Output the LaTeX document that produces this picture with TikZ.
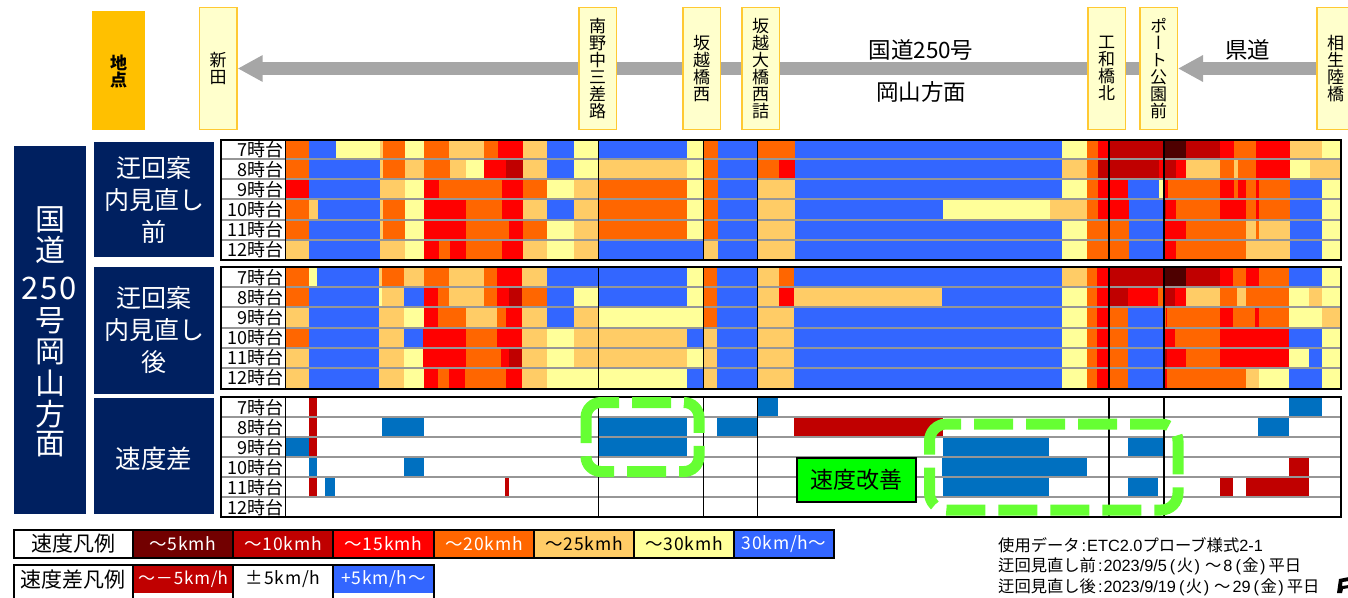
\documentclass[tikz,border=0pt]{standalone}
\usepackage{fontspec}
\setmainfont{Noto Sans CJK JP}
\newfontfamily\vertfam[RawFeature=+vert]{Noto Sans CJK JP}
\newfontfamily\spacedfam[LetterSpace=5]{Noto Sans CJK JP}
\newfontfamily\lat{Liberation Sans}
\usetikzlibrary{arrows.meta,backgrounds}
\definecolor{cO}{HTML}{FF6600}
\definecolor{cB}{HTML}{3366FF}
\definecolor{cY}{HTML}{FFFF99}
\definecolor{cL}{HTML}{FFCC66}
\definecolor{cR}{HTML}{FF0000}
\definecolor{cD}{HTML}{C00000}
\definecolor{cK}{HTML}{4E0000}
\definecolor{cK2}{HTML}{720000}
\definecolor{navy}{HTML}{002060}
\definecolor{diffB}{HTML}{0070C0}
\definecolor{siteline}{HTML}{FFC933}
\definecolor{sitefill}{HTML}{FFFFCC}
\definecolor{headfill}{HTML}{FFC000}
\definecolor{arrowgray}{HTML}{A6A6A6}
\definecolor{rowgray}{HTML}{969696}
\definecolor{hilite}{HTML}{66FF33}
\newcommand\fsz[1]{\fontsize{#1}{#1}\selectfont}
\newcommand\pf[1]{\hspace{3pt}{\lat(}\hspace{1.5pt}#1\hspace{1.5pt}{\lat)}\hspace{3pt}}
\newcommand\wave{\hspace{2pt}～\hspace{2pt}}
\newcommand\rowbars[3]{%
  \gdef\prevx{286}%
  \foreach \e/\c in {#3}{%
    \fill[\c] (\prevx,#1) rectangle (\e+0.4,#2);
    \global\let\prevx\e
  }%
}
\tikzset{
  x=1pt,y=-1pt,
  site/.style={draw=siteline,fill=sitefill,line width=1.5pt,minimum width=37.5pt,minimum height=122pt,
    inner sep=0pt,align=center,font=\fsz{17}},
  navybox/.style={fill=navy,text=white,inner sep=0pt,align=center},
  rowlab/.style={anchor=east,inner sep=0pt,font=\fsz{18}},
  rowline/.style={rowgray,line width=2pt},
  thinv/.style={black,line width=1.2pt},
  thickv/.style={black,line width=1.8pt},
  roadarrow/.style={arrowgray,line width=13pt,-{Triangle[length=25pt,width=25pt]}},
  roadtext/.style={inner sep=0pt,font=\fsz{22.5}},
  legcell/.style={inner sep=0pt,font=\spacedfam\fsz{17.5}},
  legtitle/.style={inner sep=0pt,font=\fsz{21}},
  note/.style={anchor=west,inner sep=0pt,font=\fsz{16.3}},
  hiliterect/.style={hilite,line width=11pt},
  hilitedash/.style={hiliterect,dash pattern=on 39pt off 13pt},
}
\begin{document}
\begin{tikzpicture}
\clip (0,0) rectangle (1348,597);
% header
\node[fill=headfill,minimum width=53pt,minimum height=119pt,inner sep=0pt] (head) at (118.5,70.5) {};
\node[inner sep=0pt,align=center,font=\bfseries\fsz{17}] (headtext) at (118.5,71.5) {地\\点};
\node[site] (s1) at (218.2,68.5) {新\\田};
\node[site] (s2) at (597.5,68.5) {南\\野\\中\\三\\差\\路};
\node[site] (s3) at (701.5,68.5) {坂\\越\\橋\\西};
\node[site] (s4) at (760.7,68.5) {坂\\越\\大\\橋\\西\\詰};
\node[site] (s5) at (1106.7,68.5) {工\\和\\橋\\北};
\node[site,font=\vertfam\fsz{17}] (s6) at (1158.5,68.5) {ポ\\ー\\ト\\公\\園\\前};
\node[site] (s7) at (1335.5,68.5) {相\\生\\陸\\橋};
\begin{pgfonlayer}{background}
\draw[roadarrow] (s6.west) -- (s1.east);
\draw[roadarrow] (s7.west) -- (s6.east);
\end{pgfonlayer}
\node[roadtext] (t1) at (921,50) {国道250号};
\node[roadtext] (t2) at (921,92) {岡山方面};
\node[roadtext] (t3) at (1247.5,50) {県道};
% left boxes
\node[navybox,minimum width=72pt,minimum height=368pt] (main) at (50,330) {};
\foreach \t/\yy [count=\i] in {国/220,道/250,号/321,岡/352,山/383,方/414,面/444}
  \node[text=white,inner sep=0pt,font=\fsz{30}] (m\i) at (50,\yy) {\t};
\node[text=white,inner sep=0pt,font=\spacedfam\fsz{31}] (m250) at (49,288) {250};
\node[navybox,minimum width=120pt,minimum height=115pt,font=\fontsize{25}{32}\selectfont] (b1) at (154,199.5) {迂回案\\内見直し\\前};
\node[navybox,minimum width=120pt,minimum height=127pt,font=\fontsize{25}{32}\selectfont] (b2) at (154,330) {迂回案\\内見直し\\後};
\node[navybox,minimum width=120pt,minimum height=116pt] (b3) at (154,456) {};
\node[text=white,inner sep=0pt,font=\fsz{25.5}] (b3t) at (154,459) {速度差};
% panel 1 bars
\rowbars{139.5}{159}{309/cO,336/cB,380/cY,383/cL,405/cO,424/cY,449/cO,484/cL,498/cO,523/cR,547/cL,574/cB,598/cY,687/cB,703/cY,718/cO,758/cB,795/cO,1062/cB,1087/cY,1098/cO,1109/cR,1164/cD,1186/cK,1220/cD,1234/cR,1256/cO,1290/cR,1322/cL,1340/cY}
\rowbars{159}{179}{309/cO,380/cB,383/cL,405/cO,424/cL,450/cO,466/cL,484/cY,506/cR,523/cD,547/cL,574/cB,598/cY,687/cL,703/cY,718/cO,758/cB,779/cO,795/cR,1062/cB,1087/cL,1098/cO,1159/cD,1164/cR,1176/cD,1186/cR,1220/cL,1234/cO,1238/cL,1256/cO,1290/cR,1310/cY,1340/cL}
\rowbars{179}{199}{309/cR,380/cB,405/cL,424/cY,439/cR,502/cO,523/cR,547/cO,574/cY,598/cL,687/cO,703/cY,718/cO,758/cB,795/cL,1062/cB,1087/cY,1098/cO,1128/cR,1159/cB,1163/cY,1168/cR,1220/cO,1234/cR,1238/cO,1246/cR,1256/cO,1259/cR,1290/cO,1322/cB,1340/cY}
\rowbars{199}{219.5}{309/cO,318/cL,380/cB,383/cL,405/cO,424/cY,466/cR,502/cO,523/cR,547/cL,574/cB,598/cL,687/cO,703/cY,718/cO,758/cB,795/cL,943/cB,1050/cY,1087/cL,1098/cO,1129/cR,1164/cB,1166/cD,1176/cR,1220/cO,1246/cR,1256/cO,1259/cR,1290/cO,1322/cB,1340/cY}
\rowbars{219.5}{239.5}{309/cO,380/cB,383/cL,405/cO,424/cY,466/cR,509/cO,523/cR,547/cO,574/cY,598/cL,687/cO,703/cY,718/cO,758/cB,795/cL,1062/cB,1087/cY,1129/cO,1164/cB,1186/cR,1246/cO,1256/cL,1259/cO,1290/cL,1322/cB,1340/cY}
\rowbars{239.5}{259.5}{309/cL,380/cB,405/cL,424/cY,439/cR,450/cO,466/cR,502/cO,523/cR,547/cL,574/cY,598/cL,703/cB,718/cL,758/cB,795/cL,1062/cB,1087/cY,1129/cO,1164/cB,1176/cR,1246/cO,1290/cL,1322/cB,1340/cY}
% panel 2 bars
\rowbars{267}{287}{309/cO,317/cY,379/cB,382/cL,404/cO,424/cL,449/cO,484/cL,497/cO,522/cR,547/cL,687/cB,703/cY,717/cO,757/cB,779/cL,794/cO,1062/cB,1087/cL,1097/cO,1109/cR,1163/cD,1186/cK,1220/cD,1233/cR,1246/cO,1259/cR,1289/cO,1322/cB,1340/cY}
\rowbars{287}{307}{309/cO,379/cB,382/cY,404/cL,424/cB,438/cR,449/cO,484/cL,497/cO,509/cR,522/cD,547/cO,574/cB,598/cY,687/cB,703/cY,717/cO,757/cB,779/cL,794/cR,942/cL,1062/cB,1087/cY,1097/cO,1109/cR,1128/cD,1158/cR,1163/cO,1175/cD,1186/cR,1220/cL,1237/cO,1246/cL,1289/cO,1309/cY,1322/cL,1340/cY}
\rowbars{307}{327.5}{309/cL,379/cB,404/cL,424/cY,438/cR,466/cO,497/cL,506/cO,522/cR,547/cL,574/cB,598/cL,703/cY,717/cO,757/cB,794/cL,1062/cB,1087/cY,1097/cO,1109/cR,1128/cO,1163/cB,1166/cO,1167/cR,1220/cO,1233/cR,1255/cO,1259/cR,1289/cO,1322/cY,1340/cL}
\rowbars{327.5}{347.5}{309/cO,379/cB,404/cL,423/cB,466/cR,497/cO,522/cR,547/cL,574/cY,687/cL,703/cB,717/cL,757/cB,794/cL,1062/cB,1087/cY,1097/cO,1109/cR,1128/cO,1163/cB,1175/cR,1220/cO,1289/cR,1322/cB,1340/cY}
\rowbars{347.5}{367.5}{309/cL,379/cB,404/cL,423/cY,466/cR,501/cO,509/cR,522/cD,547/cL,574/cY,687/cL,703/cY,717/cL,757/cB,794/cL,1062/cB,1087/cY,1097/cO,1109/cR,1128/cO,1163/cB,1167/cD,1186/cR,1220/cO,1289/cR,1309/cY,1322/cB,1340/cY}
\rowbars{367.5}{388}{309/cL,379/cB,404/cL,424/cY,438/cR,449/cO,465/cR,506/cO,522/cR,547/cL,687/cY,703/cB,717/cL,757/cB,794/cL,1062/cB,1087/cY,1097/cO,1109/cR,1128/cO,1163/cB,1167/cR,1246/cO,1259/cL,1289/cY,1322/cB,1340/cY}
% panel 3 bars
\foreach \xa/\ya/\xb/\yb/\c in {
 309/397/317/417/cD,309/417/317/437/cD,286/437/309/457/diffB,309/437/317/457/cD,309/457/317/477/diffB,309/477/317/497/cD,
 325/477/335/497/diffB,505/477/509/497/cD,382/417/424/437/diffB,404/457/424/477/diffB,
 598/417/687/437/diffB,598/437/687/457/diffB,717/417/757/437/diffB,758/397/778/417/diffB,
 794/417/943/437/cD,943/437/1049/457/diffB,942/457/1087/477/diffB,943/477/1049/497/diffB,
 1128/437/1163/457/diffB,1128/477/1158/497/diffB,1289/397/1322/417/diffB,1258/417/1289/437/diffB,
 1289/457/1309/477/cD,1220/477/1233/497/cD,1246/477/1309/497/cD}
  \fill[\c] (\xa,\ya) rectangle (\xb,\yb);
% grid lines
\foreach \yy in {159,179,199,219.5,239.5,287,307,327.5,347.5,367.5,417,437,457,477,497}
  \draw[rowline] (221,\yy) -- (1340,\yy);
% vertical dividers
\foreach \ya/\yb in {139/260,267/388,397/517}{
  \draw[thinv] (285.5,\ya) -- (285.5,\yb);
  \draw[thinv] (598.3,\ya) -- (598.3,\yb);
  \draw[thinv] (703.3,\ya) -- (703.3,\yb);
  \draw[thickv] (757.5,\ya) -- (757.5,\yb);
  \draw[thickv] (1109.2,\ya) -- (1109.2,\yb);
  \draw[thickv] (1163.7,\ya) -- (1163.7,\yb);
}
% frames
\draw[black,line width=2pt] (221,139.5) rectangle (1341,260);
\draw[black,line width=2pt] (221,267) rectangle (1341,388.5);
\draw[black,line width=1.6pt] (221,397) rectangle (1341,517);
% row labels
\foreach \base/\pre in {149/p,277/q,407/r}
  \foreach \t [count=\i from 0] in {7,8,9,10,11,12}
    \node[rowlab] (\pre\t) at (283.5,\base+\i*20+1) {\t 時台};
% highlights
\draw[hilitedash,rounded corners=15pt] (632,402.5) -- (699,402.5) -- (699,471.5) -- (586,471.5) -- (586,459);
\draw[hiliterect,rounded corners=15pt] (586,443) -- (586,402.5) -- (619,402.5);
\draw[hilitedash,rounded corners=17pt] (974,424) -- (1178,424) -- (1178,510) -- (929.5,510) -- (929.5,460);
\draw[hiliterect,rounded corners=17pt] (929.5,454.7) -- (929.5,424) -- (961,424);
\node[draw=black,fill=green,line width=2pt,minimum width=119pt,minimum height=44pt,inner sep=0pt,font=\fsz{23}] (improve) at (856.7,480) {速度改善};
% legend 1
\foreach \xa/\xb/\c/\tc/\t [count=\i] in {
  133/233/cK2/white/～5kmh,233/333/cD/white/～10kmh,333/434/cR/white/～15kmh,434/534/cO/white/～20kmh,
  534/634/cL/black/～25kmh,634/734/cY/black/～30kmh,734/834/cB/white/30km\slash h～}
  \node[legcell,fill=\c,text=\tc,minimum width=\xb-\xa,minimum height=28pt] (la\i) at ({(\xa+\xb)/2},544) {\t};
\node[legtitle,minimum width=120pt,minimum height=28pt] (lt1) at (73,544) {速度凡例};
\draw[black,line width=2pt] (14,530) rectangle (834,558);
\foreach \xx in {133,233,333,434,534,634,734} \draw[black,line width=2pt] (\xx,530) -- (\xx,558);
% legend 2
\node[legcell,fill=cD,text=white,minimum width=100pt,minimum height=27pt,font=\spacedfam\fsz{17}] (lb1) at (183,579) {～－5km\slash h};
\node[legcell,text=black,minimum width=100pt,minimum height=27pt] (lb2) at (283,579) {±5km\slash h};
\node[legcell,fill=cB,text=white,minimum width=100pt,minimum height=27pt] (lb3) at (383.5,579) {+5km\slash h～};
\node[legtitle,minimum width=120pt,minimum height=27pt] (lt2) at (73,580) {速度差凡例};
\draw[black,line width=2pt] (14,600) -- (14,565) -- (434,565) -- (434,600);
\foreach \xx in {133,233,333} \draw[black,line width=2pt] (\xx,565) -- (\xx,600);
% notes
\node[note] (n1) at (998,545) {使用データ{\lat\hspace{2pt}:\hspace{1pt}ETC2.0}プローブ様式{\lat 2-1}};
\node[note] (n2) at (998,566) {迂回見直し前{\lat\hspace{2pt}:\hspace{1pt}2023/9/5}\pf{火}\wave{\lat 8}\pf{金}平日};
\node[note] (n3) at (998,587) {迂回見直し後{\lat\hspace{2pt}:\hspace{1pt}2023/9/19}\pf{火}\wave{\lat 29}\pf{金}平日};
% logo fragment at the edge
\fill[black,even odd rule] (1339,579) -- (1349,577) -- (1349,588) -- (1343,589) -- (1342,593) -- (1337,593) -- cycle
  (1342.5,582) -- (1349,581) -- (1349,585) -- (1342,586) -- cycle;
\end{tikzpicture}
\end{document}
